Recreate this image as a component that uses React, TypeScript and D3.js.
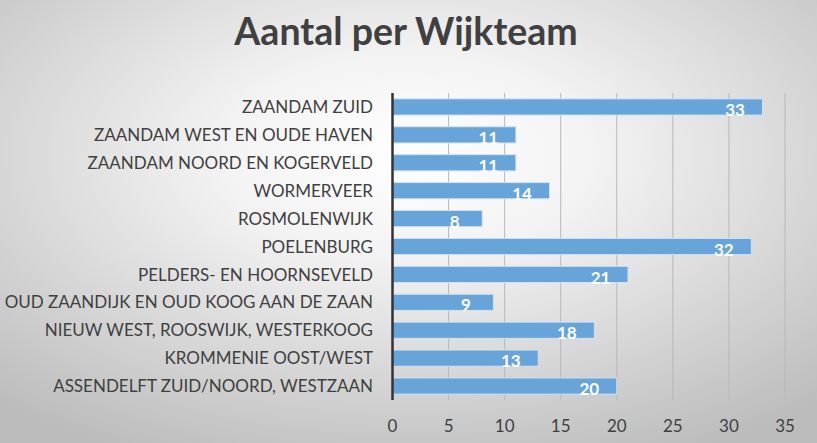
import React from "react";
import * as d3 from "d3";

const categories = [
  "ZAANDAM ZUID",
  "ZAANDAM WEST EN OUDE HAVEN",
  "ZAANDAM NOORD EN KOGERVELD",
  "WORMERVEER",
  "ROSMOLENWIJK",
  "POELENBURG",
  "PELDERS- EN HOORNSEVELD",
  "OUD ZAANDIJK EN OUD KOOG AAN DE ZAAN",
  "NIEUW WEST, ROOSWIJK, WESTERKOOG",
  "KROMMENIE OOST/WEST",
  "ASSENDELFT ZUID/NOORD, WESTZAAN",
];
const values = [33, 11, 11, 14, 8, 32, 21, 9, 18, 13, 20];
const xTicks = [0, 5, 10, 15, 20, 25, 30, 35];
const title = "Aantal per Wijkteam";

const W = 817;
const H = 443;
const left = 392.5;
const right = 785;
const top = 93;
const bottom = 400;

export default function App() {
  const x = d3.scaleLinear().domain([0, 35]).range([left, right]);
  const y = d3
    .scaleBand<string>()
    .domain(categories)
    .range([top, bottom])
    .paddingInner(0.42)
    .paddingOuter(0.21);
  const font = "Lato, 'Open Sans', sans-serif";
  return (
    <svg
      width={W}
      height={H}
      style={{ position: "absolute", left: 0, top: 0, display: "block" }}
    >
      <defs>
        <radialGradient id="bg" cx="50%" cy="35%" r="75%">
          <stop offset="0%" stopColor="#ffffff" />
          <stop offset="30%" stopColor="#f3f3f3" />
          <stop offset="100%" stopColor="#bcbcbc" />
        </radialGradient>
      </defs>
      <rect x={0} y={0} width={W} height={H} fill="url(#bg)" />
      <text
        x={406}
        y={45}
        textAnchor="middle"
        fontFamily={font}
        fontWeight={700}
        fontSize={37.5}
        fill="#404040"
      >
        {title}
      </text>
      {xTicks.map((t) =>
        t === 0 ? null : (
          <line
            key={"g" + t}
            x1={x(t)}
            x2={x(t)}
            y1={top}
            y2={bottom}
            stroke="#b8b8b8"
            strokeWidth={1}
          />
        )
      )}
      {categories.map((c, i) => {
        const by = y(c)!;
        const bh = y.bandwidth();
        const xe = x(values[i]);
        return (
          <g key={c}>
            <rect
              x={x(0)}
              y={by}
              width={xe - x(0)}
              height={bh}
              fill="#67a4da"
              stroke="#cfe2f3"
              strokeWidth={1}
            />
            <text
              x={xe - 27.5}
              y={by + bh + 1}
              textAnchor="middle"
              fontFamily={font}
              fontWeight={700}
              fontSize={17}
              fill="#ffffff"
            >
              {values[i]}
            </text>
            <text
              x={373}
              y={by + bh / 2}
              dy="0.36em"
              textAnchor="end"
              fontFamily={font}
              fontSize={17}
              fill="#404040"
            >
              {c}
            </text>
          </g>
        );
      })}
      <line
        x1={x(0)}
        x2={x(0)}
        y1={top}
        y2={bottom}
        stroke="#333333"
        strokeWidth={2.5}
      />
      {xTicks.map((t) => (
        <text
          key={"t" + t}
          x={x(t)}
          y={432}
          textAnchor="middle"
          fontFamily={font}
          fontSize={17}
          fill="#404040"
        >
          {t}
        </text>
      ))}
    </svg>
  );
}
